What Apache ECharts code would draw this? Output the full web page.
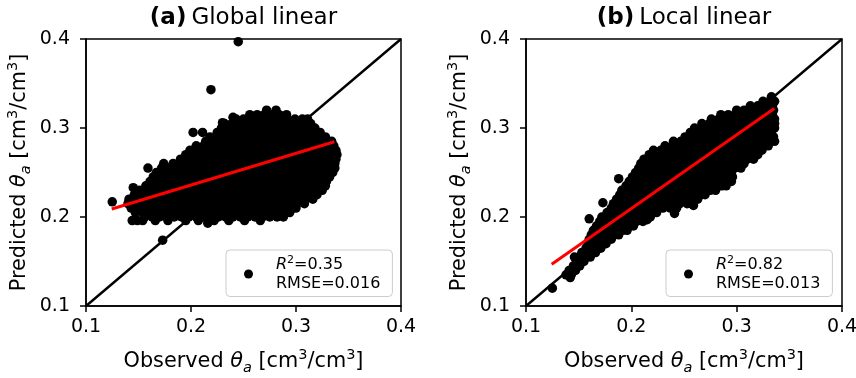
<!DOCTYPE html>
<html>
<head>
<meta charset="utf-8">
<script src="https://cdn.jsdelivr.net/npm/echarts@6/dist/echarts.min.js"></script>
<style>
  html, body { margin: 0; padding: 0; background: #ffffff; }
  #chart { width: 856px; height: 378px; }
</style>
</head>
<body>
<div id="chart"></div>
<script>
// Shared axis ticks (volumetric water content, cm3/cm3)
const axisTicks = [0.1, 0.2, 0.3, 0.4];
const panelTags = ['(a)', '(b)'];
const panelNames = ['Global linear', 'Local linear'];
const r2Values = ['0.35', '0.82'];
const rmseValues = ['0.016', '0.013'];

// 1:1 reference line end points
const identityLine = [0.1, 0.4];

// Fitted regression lines: [observed, predicted]
const globalFitLine = [[0.1245, 0.209], [0.3365, 0.2846]];
const localFitLine = [[0.1244, 0.147], [0.3357, 0.322]];

// Global linear model: rows of [predicted, [observed values ...]]
const globalRows = [
  [0.320, [0.272, 0.281]],
  [0.315, [0.256, 0.263, 0.270, 0.277, 0.284, 0.291]],
  [0.310, [0.243, 0.250, 0.257, 0.264, 0.271, 0.278, 0.285, 0.292, 0.299, 0.306, 0.311]],
  [0.305, [0.232, 0.239, 0.246, 0.253, 0.260, 0.267, 0.274, 0.281, 0.288, 0.295, 0.302, 0.309, 0.314]],
  [0.300, [0.229, 0.236, 0.243, 0.250, 0.257, 0.264, 0.271, 0.278, 0.285, 0.292, 0.299, 0.306, 0.313, 0.318]],
  [0.295, [0.202, 0.211, 0.225, 0.232, 0.239, 0.246, 0.253, 0.260, 0.267, 0.274, 0.281, 0.288, 0.295, 0.302, 0.309, 0.316, 0.323]],
  [0.290, [0.218, 0.225, 0.232, 0.239, 0.246, 0.253, 0.260, 0.267, 0.274, 0.281, 0.288, 0.295, 0.302, 0.309, 0.316, 0.323, 0.328]],
  [0.285, [0.214, 0.221, 0.228, 0.235, 0.242, 0.249, 0.256, 0.263, 0.270, 0.277, 0.284, 0.291, 0.298, 0.305, 0.312, 0.319, 0.326, 0.334]],
  [0.280, [0.205, 0.212, 0.219, 0.226, 0.233, 0.240, 0.247, 0.254, 0.261, 0.268, 0.275, 0.282, 0.289, 0.296, 0.303, 0.310, 0.317, 0.324, 0.331, 0.336]],
  [0.275, [0.199, 0.206, 0.213, 0.220, 0.227, 0.234, 0.241, 0.248, 0.255, 0.262, 0.269, 0.276, 0.283, 0.290, 0.297, 0.304, 0.311, 0.318, 0.325, 0.332, 0.338]],
  [0.270, [0.195, 0.202, 0.209, 0.216, 0.223, 0.230, 0.237, 0.244, 0.251, 0.258, 0.265, 0.272, 0.279, 0.286, 0.293, 0.300, 0.307, 0.314, 0.321, 0.328, 0.335, 0.339]],
  [0.265, [0.190, 0.197, 0.204, 0.211, 0.218, 0.225, 0.232, 0.239, 0.246, 0.253, 0.260, 0.267, 0.274, 0.281, 0.288, 0.295, 0.302, 0.309, 0.316, 0.323, 0.330, 0.338]],
  [0.260, [0.174, 0.183, 0.190, 0.197, 0.204, 0.211, 0.218, 0.225, 0.232, 0.239, 0.246, 0.253, 0.260, 0.267, 0.274, 0.281, 0.288, 0.295, 0.302, 0.309, 0.316, 0.323, 0.330, 0.337]],
  [0.255, [0.159, 0.172, 0.179, 0.186, 0.193, 0.200, 0.207, 0.214, 0.221, 0.228, 0.235, 0.242, 0.249, 0.256, 0.263, 0.270, 0.277, 0.284, 0.291, 0.298, 0.305, 0.312, 0.319, 0.326, 0.333, 0.337]],
  [0.250, [0.167, 0.174, 0.181, 0.188, 0.195, 0.202, 0.209, 0.216, 0.223, 0.230, 0.237, 0.244, 0.251, 0.258, 0.265, 0.272, 0.279, 0.286, 0.293, 0.300, 0.307, 0.314, 0.321, 0.328, 0.335]],
  [0.245, [0.164, 0.171, 0.178, 0.185, 0.192, 0.199, 0.206, 0.213, 0.220, 0.227, 0.234, 0.241, 0.248, 0.255, 0.262, 0.269, 0.276, 0.283, 0.290, 0.297, 0.304, 0.311, 0.318, 0.325, 0.332]],
  [0.240, [0.161, 0.168, 0.175, 0.182, 0.189, 0.196, 0.203, 0.210, 0.217, 0.224, 0.231, 0.238, 0.245, 0.252, 0.259, 0.266, 0.273, 0.280, 0.287, 0.294, 0.301, 0.308, 0.315, 0.322, 0.329]],
  [0.235, [0.157, 0.164, 0.171, 0.178, 0.185, 0.192, 0.199, 0.206, 0.213, 0.220, 0.227, 0.234, 0.241, 0.248, 0.255, 0.262, 0.269, 0.276, 0.283, 0.290, 0.297, 0.304, 0.311, 0.318, 0.325, 0.328]],
  [0.230, [0.151, 0.158, 0.165, 0.172, 0.179, 0.186, 0.193, 0.200, 0.207, 0.214, 0.221, 0.228, 0.235, 0.242, 0.249, 0.256, 0.263, 0.270, 0.277, 0.284, 0.291, 0.298, 0.305, 0.312, 0.319, 0.325]],
  [0.225, [0.146, 0.153, 0.160, 0.167, 0.174, 0.181, 0.188, 0.195, 0.202, 0.209, 0.216, 0.223, 0.230, 0.237, 0.244, 0.251, 0.258, 0.265, 0.272, 0.279, 0.286, 0.293, 0.300, 0.307, 0.314, 0.320]],
  [0.220, [0.141, 0.148, 0.155, 0.162, 0.169, 0.176, 0.183, 0.190, 0.197, 0.204, 0.211, 0.218, 0.225, 0.232, 0.239, 0.246, 0.253, 0.260, 0.267, 0.274, 0.281, 0.288, 0.295, 0.302, 0.309, 0.316]],
  [0.215, [0.140, 0.147, 0.154, 0.161, 0.168, 0.175, 0.182, 0.189, 0.196, 0.203, 0.210, 0.217, 0.224, 0.231, 0.238, 0.245, 0.252, 0.259, 0.266, 0.273, 0.280, 0.287, 0.294, 0.301, 0.308]],
  [0.210, [0.143, 0.150, 0.157, 0.164, 0.171, 0.178, 0.185, 0.192, 0.199, 0.206, 0.213, 0.220, 0.227, 0.234, 0.241, 0.248, 0.255, 0.262, 0.269, 0.276, 0.283, 0.290, 0.297, 0.300]],
  [0.205, [0.147, 0.154, 0.161, 0.168, 0.175, 0.182, 0.189, 0.196, 0.203, 0.210, 0.217, 0.224, 0.231, 0.238, 0.245, 0.252, 0.259, 0.266, 0.273, 0.280, 0.287, 0.294]],
  [0.200, [0.156, 0.163, 0.170, 0.177, 0.184, 0.191, 0.198, 0.205, 0.212, 0.219, 0.226, 0.233, 0.240, 0.247, 0.254, 0.261, 0.268, 0.275, 0.282, 0.288]],
  [0.196, [0.144, 0.149, 0.154, 0.166, 0.178, 0.195, 0.207, 0.222, 0.236, 0.251, 0.266]]
];
// Global linear model: isolated points [observed, predicted]
const globalStray = [
  [0.125, 0.217], [0.145, 0.233], [0.173, 0.174], [0.216, 0.193],
  [0.219, 0.343], [0.245, 0.397], [0.240, 0.312], [0.230, 0.306]
];

// Local linear model: rows of [predicted, [observed values ...]]
const localRows = [
  [0.335, [0.333]],
  [0.330, [0.325, 0.331, 0.336]],
  [0.325, [0.313, 0.320, 0.327, 0.334]],
  [0.320, [0.300, 0.307, 0.314, 0.321, 0.328, 0.335]],
  [0.315, [0.285, 0.292, 0.299, 0.306, 0.313, 0.320, 0.327, 0.334]],
  [0.310, [0.276, 0.283, 0.290, 0.297, 0.304, 0.311, 0.318, 0.325, 0.332, 0.336]],
  [0.305, [0.267, 0.274, 0.281, 0.288, 0.295, 0.302, 0.309, 0.316, 0.323, 0.330, 0.336]],
  [0.300, [0.260, 0.267, 0.274, 0.281, 0.288, 0.295, 0.302, 0.309, 0.316, 0.323, 0.330, 0.336]],
  [0.295, [0.256, 0.263, 0.270, 0.277, 0.284, 0.291, 0.298, 0.305, 0.312, 0.319, 0.326, 0.333]],
  [0.290, [0.251, 0.258, 0.265, 0.272, 0.279, 0.286, 0.293, 0.300, 0.307, 0.314, 0.321, 0.328, 0.335]],
  [0.285, [0.240, 0.247, 0.254, 0.261, 0.268, 0.275, 0.282, 0.289, 0.296, 0.303, 0.310, 0.317, 0.324, 0.331, 0.336]],
  [0.280, [0.232, 0.239, 0.246, 0.253, 0.260, 0.267, 0.274, 0.281, 0.288, 0.295, 0.302, 0.309, 0.316, 0.323, 0.330]],
  [0.275, [0.221, 0.228, 0.235, 0.242, 0.249, 0.256, 0.263, 0.270, 0.277, 0.284, 0.291, 0.298, 0.305, 0.312, 0.319, 0.324]],
  [0.270, [0.217, 0.224, 0.231, 0.238, 0.245, 0.252, 0.259, 0.266, 0.273, 0.280, 0.287, 0.294, 0.301, 0.308, 0.315, 0.320]],
  [0.265, [0.212, 0.219, 0.226, 0.233, 0.240, 0.247, 0.254, 0.261, 0.268, 0.275, 0.282, 0.289, 0.296, 0.303, 0.310, 0.316]],
  [0.260, [0.209, 0.216, 0.223, 0.230, 0.237, 0.244, 0.251, 0.258, 0.265, 0.272, 0.279, 0.286, 0.293, 0.300, 0.307]],
  [0.255, [0.207, 0.214, 0.221, 0.228, 0.235, 0.242, 0.249, 0.256, 0.263, 0.270, 0.277, 0.284, 0.291, 0.298, 0.304]],
  [0.250, [0.204, 0.211, 0.218, 0.225, 0.232, 0.239, 0.246, 0.253, 0.260, 0.267, 0.274, 0.281, 0.288, 0.295]],
  [0.245, [0.201, 0.208, 0.215, 0.222, 0.229, 0.236, 0.243, 0.250, 0.257, 0.264, 0.271, 0.278, 0.285, 0.292, 0.296]],
  [0.240, [0.198, 0.205, 0.212, 0.219, 0.226, 0.233, 0.240, 0.247, 0.254, 0.261, 0.268, 0.275, 0.282, 0.289, 0.295]],
  [0.235, [0.195, 0.202, 0.209, 0.216, 0.223, 0.230, 0.237, 0.244, 0.251, 0.258, 0.265, 0.272, 0.279, 0.286, 0.290]],
  [0.230, [0.191, 0.198, 0.205, 0.212, 0.219, 0.226, 0.233, 0.240, 0.247, 0.254, 0.261, 0.268, 0.275, 0.280]],
  [0.225, [0.189, 0.196, 0.203, 0.210, 0.217, 0.224, 0.231, 0.238, 0.245, 0.252, 0.259, 0.266, 0.270]],
  [0.220, [0.186, 0.193, 0.200, 0.207, 0.214, 0.221, 0.228, 0.235, 0.242, 0.249, 0.256, 0.263]],
  [0.215, [0.183, 0.190, 0.197, 0.204, 0.211, 0.218, 0.225, 0.232, 0.239, 0.246, 0.253, 0.258]],
  [0.210, [0.181, 0.188, 0.195, 0.202, 0.209, 0.216, 0.223, 0.230, 0.237, 0.243]],
  [0.205, [0.177, 0.184, 0.191, 0.198, 0.205, 0.212, 0.219, 0.224]],
  [0.200, [0.172, 0.179, 0.186, 0.193, 0.200, 0.207, 0.214, 0.218]],
  [0.195, [0.170, 0.177, 0.184, 0.191, 0.198, 0.205, 0.211]],
  [0.190, [0.167, 0.174, 0.181, 0.188, 0.195, 0.202]],
  [0.185, [0.164, 0.171, 0.178, 0.185, 0.192, 0.196]],
  [0.180, [0.162, 0.169, 0.176, 0.183, 0.188]],
  [0.175, [0.160, 0.167, 0.174, 0.181]],
  [0.170, [0.159, 0.165, 0.171, 0.176]],
  [0.165, [0.157, 0.164, 0.171]],
  [0.160, [0.153, 0.160, 0.166]],
  [0.155, [0.146, 0.151, 0.157, 0.161]],
  [0.150, [0.148, 0.155]],
  [0.145, [0.145, 0.151]],
  [0.140, [0.141, 0.147]],
  [0.135, [0.138, 0.143]]
];
// Local linear model: isolated points [observed, predicted]
const localStray = [
  [0.125, 0.120], [0.142, 0.132], [0.160, 0.198], [0.173, 0.216],
  [0.188, 0.243], [0.215, 0.197], [0.241, 0.204], [0.259, 0.213]
];

const FONT = 'DejaVu Sans';

function toPoints(rows, stray) {
  const pts = [];
  rows.forEach(([pred, obsList]) => obsList.forEach(obs => pts.push([obs, pred])));
  return pts.concat(stray);
}

const nameRich = {
  t: { fontSize: 20.8, fontFamily: FONT, color: '#000', lineHeight: 28 },
  i: { fontSize: 20.8, fontFamily: FONT, fontStyle: 'italic', color: '#000', lineHeight: 28 },
  sub: { fontSize: 14.5, fontFamily: FONT, fontStyle: 'italic', color: '#000', lineHeight: 23, verticalAlign: 'bottom' },
  sup: { fontSize: 14.5, fontFamily: FONT, color: '#000', lineHeight: 14, verticalAlign: 'top' }
};

function axisName(word) {
  return '{t|' + word + ' }{i|θ}{sub|a}{t| [cm}{sup|3}{t|/cm}{sup|3}{t|]}';
}

function valueAxis(gridIndex, isX) {
  return {
    type: 'value',
    gridIndex: gridIndex,
    min: axisTicks[0],
    max: axisTicks[axisTicks.length - 1],
    interval: 0.1,
    axisLine: { show: true, onZero: false, lineStyle: { color: '#000', width: 1.5 } },
    axisTick: { show: true, length: 6, lineStyle: { color: '#000', width: 1.5 } },
    splitLine: { show: false },
    axisLabel: {
      color: '#000', fontSize: 19, fontFamily: FONT,
      margin: isX ? 12 : 16,
      formatter: v => v.toFixed(1)
    },
    name: axisName(isX ? 'Observed' : 'Predicted'),
    nameLocation: 'middle',
    nameGap: isX ? 42 : 52,
    nameTextStyle: { rich: nameRich }
  };
}

const grids = [
  { left: 86, top: 39, width: 315, height: 267 },
  { left: 526, top: 39, width: 316, height: 267 }
];

const fits = [globalFitLine, localFitLine];
const clouds = [toPoints(globalRows, globalStray), toPoints(localRows, localStray)];

const series = [];
[0, 1].forEach(k => {
  series.push({
    name: panelNames[k],
    type: 'scatter',
    xAxisIndex: k, yAxisIndex: k,
    data: clouds[k],
    symbol: 'circle',
    symbolSize: 9.5,
    itemStyle: { color: '#000', opacity: 1 },
    silent: true, z: 2
  });
  series.push({
    name: 'one-to-one ' + k,
    type: 'line',
    xAxisIndex: k, yAxisIndex: k,
    data: [[identityLine[0], identityLine[0]], [identityLine[1], identityLine[1]]],
    showSymbol: false, symbol: 'none',
    lineStyle: { color: '#000', width: 2.4 },
    silent: true, z: 3
  });
  series.push({
    name: 'fit ' + k,
    type: 'line',
    xAxisIndex: k, yAxisIndex: k,
    data: fits[k],
    showSymbol: false, symbol: 'none',
    lineStyle: { color: '#ff0000', width: 3 },
    silent: true, z: 4
  });
});

const legendRich = {
  sp: { width: 18, fontSize: 16, fontFamily: FONT, lineHeight: 19 },
  i: { fontSize: 16, fontFamily: FONT, fontStyle: 'italic', color: '#000', lineHeight: 19 },
  s: { fontSize: 11, fontFamily: FONT, color: '#000', lineHeight: 11, verticalAlign: 'top' },
  t: { fontSize: 16, fontFamily: FONT, color: '#000', lineHeight: 19 }
};

const option = {
  animation: false,
  backgroundColor: '#ffffff',
  title: [0, 1].map(k => ({
    text: '{b|' + panelTags[k] + '} {n|' + panelNames[k] + '}',
    left: grids[k].left + grids[k].width / 2,
    top: 7,
    textAlign: 'center',
    padding: 0,
    textStyle: {
      fontWeight: 'normal',
      rich: {
        b: { fontSize: 23, fontWeight: 'bold', fontFamily: FONT, color: '#000' },
        n: { fontSize: 23, fontWeight: 'normal', fontFamily: FONT, color: '#000' }
      }
    }
  })),
  grid: grids.map(g => Object.assign({
    show: true, borderColor: '#000', borderWidth: 1.5, backgroundColor: 'transparent',
    containLabel: false, outerBoundsMode: 'none'
  }, g)),
  xAxis: [valueAxis(0, true), valueAxis(1, true)],
  yAxis: [valueAxis(0, false), valueAxis(1, false)],
  legend: [0, 1].map(k => ({
    data: [panelNames[k]],
    left: k ? 666 : 226,
    top: 250,
    orient: 'vertical',
    selectedMode: false,
    backgroundColor: 'rgba(255,255,255,0.85)',
    borderColor: '#cccccc',
    borderWidth: 1,
    borderRadius: 4,
    padding: [5, 12, 5, 18],
    icon: 'circle',
    itemWidth: 9,
    itemHeight: 9,
    formatter: () => '{sp| }{i|R}{s|2}{t|=' + r2Values[k] + '}\n{sp| }{t|RMSE=' + rmseValues[k] + '}',
    textStyle: { rich: legendRich }
  })),
  series: series
};

const chart = echarts.init(document.getElementById('chart'), null, { renderer: 'canvas' });
chart.setOption(option);
</script>
</body>
</html>
